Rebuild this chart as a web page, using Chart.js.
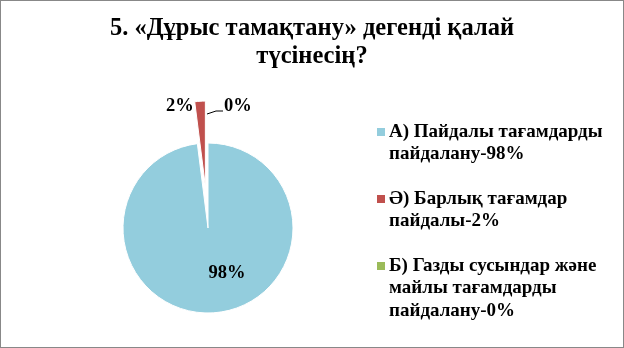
<!DOCTYPE html>
<html lang="kk">
<head>
<meta charset="UTF-8">
<title>Дұрыс тамақтану</title>
<script src="https://cdn.jsdelivr.net/npm/chart.js"></script>
<style>
  html, body { margin: 0; padding: 0; background: #fff; }
</style>
</head>
<body>
<canvas id="pieChart" width="624" height="348"></canvas>
<script>
// данные диаграммы
var titleLines = ['5. «Дұрыс тамақтану» дегенді қалай', 'түсінесің?'];
var categories = [
  'А) Пайдалы тағамдарды пайдалану',
  'Ә) Барлық тағамдар пайдалы',
  'Б) Газды сусындар және майлы тағамдарды пайдалану'
];
var values = [98, 2, 0];
var colors = ['#93CDDD', '#C0504D', '#9BBB59'];

var serif = '"Liberation Serif", "Times New Roman", serif';
var explode = [0, 42, 0];   // вынос сектора, px

// фон, рамка и заголовок
var framePlugin = {
  id: 'frame',
  beforeDraw: function (chart) {
    var ctx = chart.ctx;
    ctx.save();
    ctx.fillStyle = '#fff';
    ctx.fillRect(0, 0, chart.width, chart.height);
    ctx.restore();
  },
  afterDraw: function (chart) {
    var ctx = chart.ctx;
    ctx.save();
    ctx.font = 'bold 24.5px ' + serif;
    ctx.fillStyle = '#000';
    ctx.textAlign = 'center';
    ctx.textBaseline = 'middle';
    titleLines.forEach(function (ln, k) {
      ctx.fillText(ln, chart.width / 2, 29 + k * 28);
    });
    ctx.strokeStyle = '#888';
    ctx.lineWidth = 1;
    ctx.strokeRect(0.5, 0.5, chart.width - 1, chart.height - 1);
    ctx.restore();
  }
};

// сдвигаем вынесенный сектор по средней линии
var explodePlugin = {
  id: 'explode',
  afterDatasetUpdate: function (chart, args) {
    var arcs = args.meta.data;
    arcs.forEach(function (arc, i) {
      if (!explode[i]) return;
      var mid = (arc.startAngle + arc.endAngle) / 2;
      arc.x += Math.cos(mid) * explode[i];
      arc.y += Math.sin(mid) * explode[i];
    });
  }
};

// подписи процентов
var labelStyle = [
  { anchor: 'inside', angle: 157, dist: 0.575, align: 'center' },
  { anchor: 'start', dx: -1, dy: 4, align: 'right' },
  { anchor: 'start', dx: 16, dy: -37, align: 'left', leader: true }
];
var valueLabels = {
  id: 'valueLabels',
  afterDatasetsDraw: function (chart) {
    var ctx = chart.ctx;
    var arcs = chart.getDatasetMeta(0).data;
    ctx.save();
    ctx.font = 'bold 18.5px ' + serif;
    ctx.fillStyle = '#000';
    ctx.textBaseline = 'middle';
    arcs.forEach(function (arc, i) {
      var s = labelStyle[i];
      var x, y;
      if (s.anchor === 'inside') {
        var a = (s.angle - 90) * Math.PI / 180;
        x = arc.x + Math.cos(a) * arc.outerRadius * s.dist;
        y = arc.y + Math.sin(a) * arc.outerRadius * s.dist;
      } else {
        x = arc.x + Math.cos(arc.startAngle) * arc.outerRadius + s.dx;
        y = arc.y + Math.sin(arc.startAngle) * arc.outerRadius + s.dy;
      }
      ctx.textAlign = s.align;
      ctx.fillText(values[i] + '%', x, y);
      if (s.leader) {
        ctx.strokeStyle = '#000';
        ctx.lineWidth = 1;
        ctx.beginPath();
        ctx.moveTo(x - 1, y + 5);
        ctx.lineTo(x - 8, y + 5);
        ctx.lineTo(x - 17, y + 8);
        ctx.stroke();
      }
    });
    ctx.restore();
  }
};

// легенда справа, с переносом строк
var sideLegend = {
  id: 'sideLegend',
  afterDraw: function (chart) {
    var ctx = chart.ctx;
    var markX = 377, textX = 389, maxW = chart.width - textX - 6;
    var lineH = 22.5, gap = 22;
    var y = 132;
    ctx.save();
    ctx.font = 'bold 19px ' + serif;
    ctx.textBaseline = 'middle';
    ctx.textAlign = 'left';
    categories.forEach(function (cat, i) {
      var text = cat + '-' + values[i] + '%';
      var words = text.split(' ');
      var lines = [], cur = '';
      words.forEach(function (w) {
        var t = cur ? cur + ' ' + w : w;
        if (cur && ctx.measureText(t).width > maxW) {
          lines.push(cur);
          cur = w;
        } else {
          cur = t;
        }
      });
      lines.push(cur);
      ctx.fillStyle = colors[i];
      ctx.fillRect(markX, y - 4, 8, 8);
      ctx.fillStyle = '#000';
      lines.forEach(function (ln, k) {
        ctx.fillText(ln, textX, y + k * lineH);
      });
      y += lines.length * lineH + gap;
    });
    ctx.restore();
  }
};

var ctx = document.getElementById('pieChart').getContext('2d');
var chart = new Chart(ctx, {
  type: 'pie',
  data: {
    labels: categories,
    datasets: [{
      data: values,
      backgroundColor: colors,
      borderColor: '#fff',
      borderWidth: 1
    }]
  },
  options: {
    responsive: false,
    animation: false,
    radius: 85,
    layout: { padding: { left: 10, right: 218, top: 118, bottom: 10 } },
    plugins: {
      legend: { display: false },
      tooltip: { enabled: false },
      title: { display: false }
    }
  },
  plugins: [framePlugin, explodePlugin, valueLabels, sideLegend]
});
</script>
</body>
</html>
